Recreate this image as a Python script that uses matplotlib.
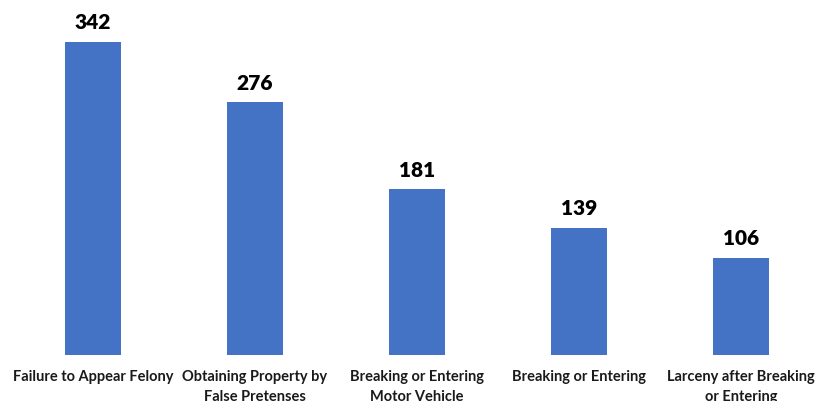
import matplotlib.pyplot as plt

categories = ["Failure to Appear Felony", "Obtaining Property by\nFalse Pretenses",
              "Breaking or Entering\nMotor Vehicle", "Breaking or Entering",
              "Larceny after Breaking\nor Entering"]
counts = [342, 276, 181, 139, 106]

plt.rcParams['font.family'] = ['Lato', 'DejaVu Sans']

fig = plt.figure(figsize=(8.33, 4.01), dpi=100)
ax = fig.add_axes([0.0144, 0.1147, 0.9724, 0.8853])

x = range(len(categories))
bars = ax.bar(x, counts, width=0.35, color='#4472C4')

for rect, v in zip(bars, counts):
    ax.annotate(str(v), (rect.get_x() + rect.get_width() / 2, v),
                xytext=(0, 7), textcoords='offset points',
                ha='center', va='bottom', fontsize=15, fontweight='heavy', color='black')

ax.set_xlim(-0.5, len(categories) - 0.5)
ax.set_ylim(0, 388)
ax.set_xticks(list(x))
ax.set_xticklabels(categories, fontsize=10.5, fontweight='bold', color='#1a1a1a',
                   linespacing=1.5)
ax.tick_params(axis='x', length=0, pad=11)
ax.set_yticks([])
for s in ax.spines.values():
    s.set_visible(False)

fig.savefig('out.png', dpi=100)
